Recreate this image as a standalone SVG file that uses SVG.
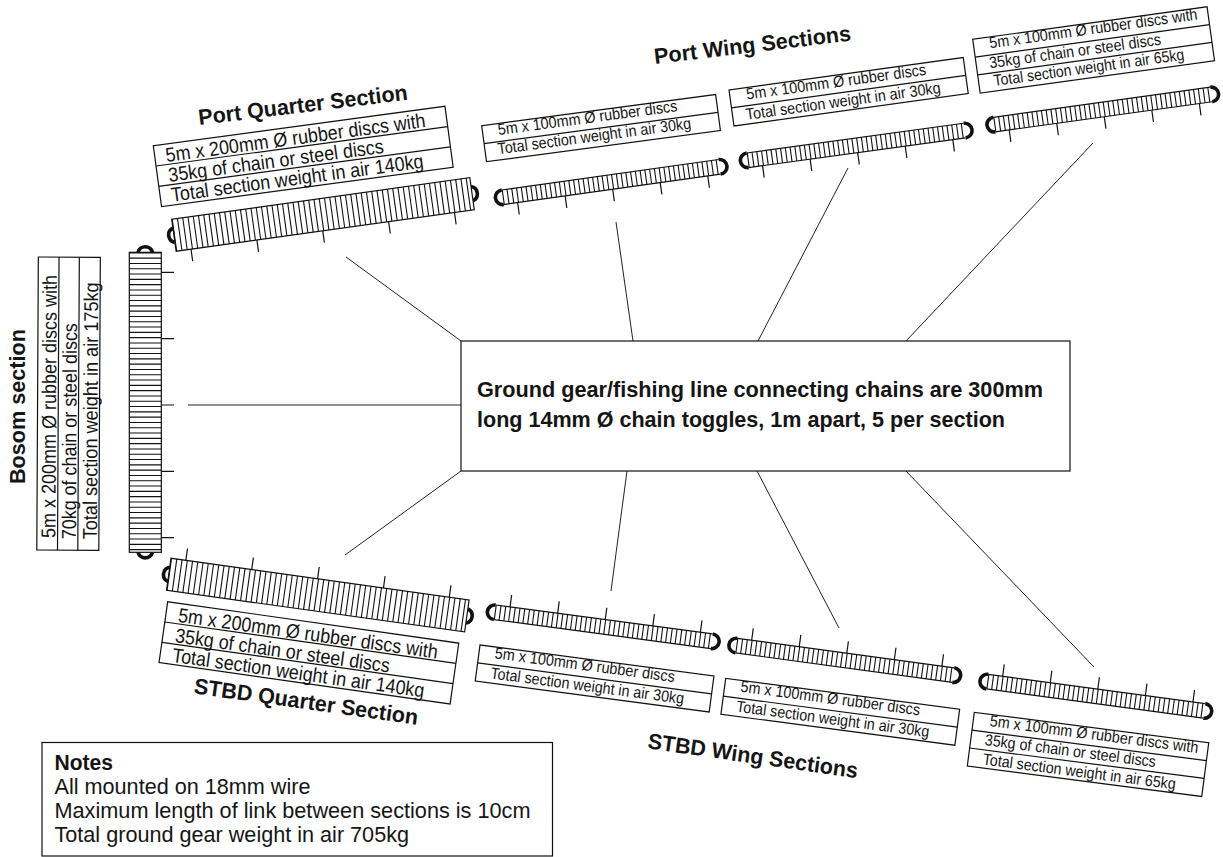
<svg xmlns="http://www.w3.org/2000/svg" width="1223" height="857" viewBox="0 0 1223 857">
<style>
text{font-family:"Liberation Sans",Arial,sans-serif;fill:#151515}
.b{font-weight:bold;font-size:22px}
.q{font-size:20px}
.w{font-size:16px}
.n{font-size:21.5px}
.box{fill:#fff;stroke:#111;stroke-width:1.2}
.ln{fill:none;stroke:#111;stroke-width:1.2}
.rw{fill:none;stroke:#111;stroke-width:14.7;stroke-dasharray:1.1 3.7}
.rq{fill:none;stroke:#111;stroke-width:32.3;stroke-dasharray:1.1 4.2}
.lp{fill:none;stroke:#111;stroke-width:3.6}
.cn{fill:none;stroke:#222;stroke-width:1}
</style>
<rect width="1223" height="857" fill="#fff"/>
<g id="connectors" class="cn">
<path d="M346 257L461 341M616 222L633 341M848 168L758 341M1093 143L906 341M188 405L461 405M461 471L345 555M627 471L611 591M757 471L839 628M906 471L1094 667"/>
</g>

<g id="center-note">
<rect class="box" x="461" y="341" width="609" height="130"/>
<text class="b" x="477" y="397" textLength="566" lengthAdjust="spacingAndGlyphs">Ground gear/fishing line connecting chains are 300mm</text>
<text class="b" x="477" y="427" textLength="528" lengthAdjust="spacingAndGlyphs">long 14mm Ø chain toggles, 1m apart, 5 per section</text>
</g>

<g id="notes">
<rect class="box" x="42" y="742.5" width="510.5" height="113.5"/>
<text class="n" x="54.5" y="769.5" font-weight="bold" textLength="58.5" lengthAdjust="spacingAndGlyphs">Notes</text>
<text class="n" x="54.5" y="794" textLength="256" lengthAdjust="spacingAndGlyphs">All mounted on 18mm wire</text>
<text class="n" x="54.5" y="817.5" textLength="476" lengthAdjust="spacingAndGlyphs">Maximum length of link between sections is 10cm</text>
<text class="n" x="54.5" y="842" textLength="354.5" lengthAdjust="spacingAndGlyphs">Total ground gear weight in air 705kg</text>
</g>

<g id="bosom-section">
<text class="b" transform="translate(24.5,484) rotate(-90)" textLength="155" lengthAdjust="spacingAndGlyphs">Bosom section</text>
<g transform="translate(36.8,550) rotate(-89.7)">
<rect class="box" width="293" height="62"/>
<path class="ln" d="M0 20.7H293M0 41H293"/>
<text class="q" x="12" y="18.5" textLength="263" lengthAdjust="spacingAndGlyphs">5m x 200mm Ø rubber discs with</text>
<text class="q" x="11" y="39" textLength="216" lengthAdjust="spacingAndGlyphs">70kg of chain or steel discs</text>
<text class="q" x="11" y="60" textLength="257" lengthAdjust="spacingAndGlyphs">Total section weight in air 175kg</text>
</g>
<path class="lp" d="M138 252.3A7.5 7.5 0 0 1 152.5 252.3M138 552.3A7.5 7.5 0 0 0 152.5 552.3"/>
<rect class="box" x="129.3" y="252.3" width="32" height="300"/>
<line x1="145.3" y1="252.3" x2="145.3" y2="552.3" class="rq" style="stroke-width:32"/>
<path class="ln" d="M161.3 272.3H174M161.3 338.7H174M161.3 405H174M161.3 471.3H174M161.3 537.7H174"/>
</g>

<g id="port-quarter">
<text class="b" transform="translate(199.3,125) rotate(-6.9)" textLength="210.5" lengthAdjust="spacingAndGlyphs">Port Quarter Section</text>
<g transform="translate(153.3,145.7) rotate(-7.7)">
<rect class="box" width="294.3" height="61.5"/>
<path class="ln" d="M0 20.5H294.3M0 41H294.3"/>
<text class="q" x="11" y="18" textLength="262" lengthAdjust="spacingAndGlyphs">5m x 200mm Ø rubber discs with</text>
<text class="q" x="11" y="38" textLength="217" lengthAdjust="spacingAndGlyphs">35kg of chain or steel discs</text>
<text class="q" x="11" y="58" textLength="254.5" lengthAdjust="spacingAndGlyphs">Total section weight in air 140kg</text>
</g>
<g transform="translate(171.7,219.3) rotate(-7.95)">
<path class="lp" d="M0 9A7.5 7.5 0 0 0 0 23.3M301 9A7.5 7.5 0 0 1 301 23.3"/>
<rect class="box" width="301" height="32.3"/>
<line class="rq" x1="0" y1="16.15" x2="301" y2="16.15"/>
<path class="ln" d="M15 32.3v12M81.5 32.3v12M148 32.3v12M214.5 32.3v12M281 32.3v12"/>
</g>
</g>

<g id="stbd-quarter">
<text class="b" transform="translate(193.3,693.3) rotate(8)" textLength="226" lengthAdjust="spacingAndGlyphs">STBD Quarter Section</text>
<g transform="translate(167.7,601.7) rotate(8.1)">
<rect class="box" width="294" height="61.5"/>
<path class="ln" d="M0 20.5H294M0 41H294"/>
<text class="q" x="12.5" y="18.4" textLength="262" lengthAdjust="spacingAndGlyphs">5m x 200mm Ø rubber discs with</text>
<text class="q" x="12.3" y="39" textLength="216.7" lengthAdjust="spacingAndGlyphs">35kg of chain or steel discs</text>
<text class="q" x="12.3" y="58.8" textLength="254.3" lengthAdjust="spacingAndGlyphs">Total section weight in air 140kg</text>
</g>
<g transform="translate(171,558.3) rotate(7.95)">
<path class="lp" d="M0 9A7.5 7.5 0 0 0 0 23.3M301 9A7.5 7.5 0 0 1 301 23.3"/>
<rect class="box" width="301" height="32.3"/>
<line class="rq" x1="0" y1="16.15" x2="301" y2="16.15"/>
<path class="ln" d="M15 0v-12M81.5 0v-12M148 0v-12M214.5 0v-12M281 0v-12"/>
</g>
</g>

<text id="port-wing-title" class="b" transform="translate(655,64) rotate(-6.8)" textLength="198" lengthAdjust="spacingAndGlyphs">Port Wing Sections</text>
<text id="stbd-wing-title" class="b" transform="translate(647,748.3) rotate(8.1)" textLength="212" lengthAdjust="spacingAndGlyphs">STBD Wing Sections</text>

<defs>
<g id="wing-rail-up">
<path class="lp" d="M0 0A7.35 7.35 0 0 0 0 14.7M219 0A7.35 7.35 0 0 1 219 14.7"/>
<path class="ln" d="M0 0H219M0 14.7H219"/>
<line class="rw" x1="0" y1="7.35" x2="219" y2="7.35"/>
<path class="ln" d="M14.5 0v-12M62.5 0v-12M110.5 0v-12M158.5 0v-12M206.5 0v-12"/>
</g>
<g id="wing-rail-down">
<path class="lp" d="M0 0A7.35 7.35 0 0 0 0 14.7M219 0A7.35 7.35 0 0 1 219 14.7"/>
<path class="ln" d="M0 0H219M0 14.7H219"/>
<line class="rw" x1="0" y1="7.35" x2="219" y2="7.35"/>
<path class="ln" d="M14 14.7v12M62 14.7v12M110 14.7v12M158 14.7v12M206 14.7v12"/>
</g>
</defs>

<g id="port-wing-1">
<g transform="translate(481.7,125.7) rotate(-7.6)">
<rect class="box" width="236" height="36.3"/>
<path class="ln" d="M0 18H236"/>
<text class="w" x="15.4" y="11.5" textLength="181" lengthAdjust="spacingAndGlyphs">5m x 100mm Ø rubber discs</text>
<text class="w" x="12.7" y="30.5" textLength="195" lengthAdjust="spacingAndGlyphs">Total section weight in air 30kg</text>
</g>
<use href="#wing-rail-down" transform="translate(501.7,190) rotate(-8)"/>
</g>

<g id="port-wing-2">
<g transform="translate(729,90) rotate(-7.9)">
<rect class="box" width="236.5" height="36.3"/>
<path class="ln" d="M0 18H236.5"/>
<text class="w" x="16.5" y="12" textLength="181.4" lengthAdjust="spacingAndGlyphs">5m x 100mm Ø rubber discs</text>
<text class="w" x="13.3" y="32" textLength="196.5" lengthAdjust="spacingAndGlyphs">Total section weight in air 30kg</text>
</g>
<use href="#wing-rail-down" transform="translate(746.7,153) rotate(-7.8)"/>
</g>

<g id="port-wing-3">
<g transform="translate(972.7,39.3) rotate(-7.9)">
<rect class="box" width="236.6" height="54.4"/>
<path class="ln" d="M0 18H236.6M0 36H236.6"/>
<text class="w" x="15.9" y="11.3" textLength="210" lengthAdjust="spacingAndGlyphs">5m x 100mm Ø rubber discs with</text>
<text class="w" x="13.1" y="31.1" textLength="173.3" lengthAdjust="spacingAndGlyphs">35kg of chain or steel discs</text>
<text class="w" x="15" y="49.3" textLength="192.2" lengthAdjust="spacingAndGlyphs">Total section weight in air 65kg</text>
</g>
<use href="#wing-rail-down" transform="translate(993.3,117.3) rotate(-7.9)"/>
</g>

<g id="stbd-wing-1">
<g transform="translate(480,645) rotate(7.55)">
<rect class="box" width="236" height="36.3"/>
<path class="ln" d="M0 18H236"/>
<text class="w" x="15.9" y="11.3" textLength="181.4" lengthAdjust="spacingAndGlyphs">5m x 100mm Ø rubber discs</text>
<text class="w" x="14.3" y="31.7" textLength="195" lengthAdjust="spacingAndGlyphs">Total section weight in air 30kg</text>
</g>
<use href="#wing-rail-up" transform="translate(495.7,605) rotate(7.6)"/>
</g>

<g id="stbd-wing-2">
<g transform="translate(725.7,678.3) rotate(7.55)">
<rect class="box" width="236" height="36.3"/>
<path class="ln" d="M0 18H236"/>
<text class="w" x="15.9" y="11.3" textLength="181" lengthAdjust="spacingAndGlyphs">5m x 100mm Ø rubber discs</text>
<text class="w" x="14.3" y="31.7" textLength="194.5" lengthAdjust="spacingAndGlyphs">Total section weight in air 30kg</text>
</g>
<use href="#wing-rail-up" transform="translate(737.3,638.3) rotate(7.75)"/>
</g>

<g id="stbd-wing-3">
<g transform="translate(974.3,712.3) rotate(7.4)">
<rect class="box" width="236.4" height="54.2"/>
<path class="ln" d="M0 18H236.4M0 36H236.4"/>
<text class="w" x="16.7" y="11.7" textLength="210" lengthAdjust="spacingAndGlyphs">5m x 100mm Ø rubber discs with</text>
<text class="w" x="14.1" y="31.1" textLength="172.3" lengthAdjust="spacingAndGlyphs">35kg of chain or steel discs</text>
<text class="w" x="14.6" y="50.6" textLength="194.4" lengthAdjust="spacingAndGlyphs">Total section weight in air 65kg</text>
</g>
<use href="#wing-rail-up" transform="translate(988.3,674.3) rotate(7.7)"/>
</g>
</svg>
